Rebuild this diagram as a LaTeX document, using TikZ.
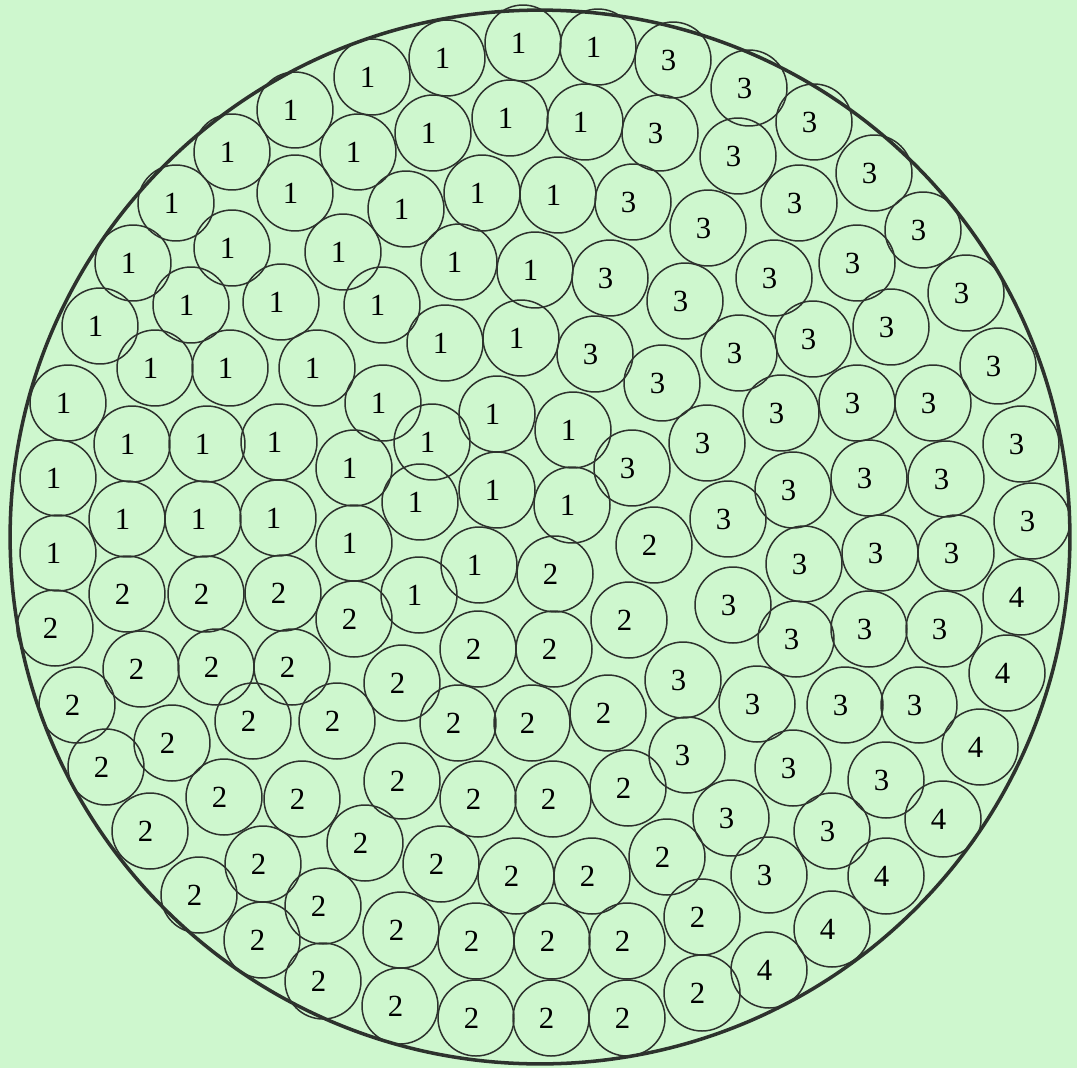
\documentclass[tikz,border=0pt]{standalone}
\usepackage{fontspec}
\setmainfont{Liberation Serif}
\usepackage{tikz}
\usepackage{xcolor}
\definecolor{bggreen}{RGB}{206,247,206}
\definecolor{linegray}{RGB}{45,50,45}

\begin{document}
\begin{tikzpicture}[
  x=0.02cm, y=-0.02cm,
  strand/.style={draw=linegray, circle, minimum size=1.52cm, inner sep=0pt, line width=0.85pt,
    label={[font=\fontsize{17.5}{17.5}\selectfont, xshift=-0.09cm, inner sep=0pt]center:#1}},
  sheath/.style={draw=linegray, line width=2pt}
]
\fill[bggreen] (0,0) rectangle (1077,1068);
\useasboundingbox (0,0) rectangle (1077,1068);
\draw[sheath] (540,537) ellipse [x radius=10.6cm, y radius=10.54cm];

% group 1
\foreach \px/\py [count=\i] in {367/77, 442/58, 518/43, 593/47, 290/110, 428/133, 505/118, 580/122,
  227/152, 353/152, 171/203, 290/193, 401/209, 477/193, 553/195,
  128/263, 227/248, 338/252, 454/262, 530/270, 95/326, 186/305, 276/302, 377/305, 440/343, 516/338,
  150/368, 225/368, 312/368, 63/403, 378/403, 492/414, 568/430,
  127/444, 202/444, 274/442, 427/442, 53/478, 349/468, 492/490, 415/502, 567/505,
  122/519, 198/519, 273/518, 53/553, 349/543, 474/565, 414/595}
  \node[strand=1] (a\i) at ({\px+5},\py) {};

% group 2
\foreach \px/\py [count=\i] in {649/545, 550/574, 122/594, 201/594, 278/593, 50/628, 349/619, 624/620,
  473/649, 549/649, 136/669, 211/667, 287/667, 397/683, 72/705, 248/721, 332/721, 453/723, 527/723, 603/713,
  167/743, 101/767, 397/781, 473/799, 548/799, 623/788, 219/797, 297/799, 145/831, 360/843,
  258/864, 436/864, 511/876, 587/876, 662/857, 194/895, 318/906, 697/917, 257/940, 396/930,
  471/941, 547/941, 622/941, 318/981, 697/993, 395/1006, 471/1018, 546/1018, 622/1018}
  \node[strand=2] (b\i) at ({\px+5},\py) {};

% group 3
\foreach \px/\py [count=\i] in {668/60, 744/88, 655/133, 809/122, 733/156, 869/173, 628/202, 794/203,
  703/228, 918/230, 605/278, 769/278, 852/263, 961/293, 680/301, 590/354, 734/353, 808/339, 886/327,
  993/366, 657/383, 776/413, 852/403, 928/403, 702/443, 1016/444, 627/468, 788/490, 864/478, 941/479,
  723/519, 1027/521, 799/564, 875/553, 951/553, 728/605, 791/639, 864/629, 939/629, 678/680,
  752/704, 840/705, 914/705, 682/755, 788/768, 881/780, 726/818, 827/831, 764/875}
  \node[strand=3] (c\i) at ({\px+5},\py) {};

% group 4
\foreach \px/\py [count=\i] in {1016/597, 1002/673, 975/747, 938/819, 881/876, 827/929, 764/970}
  \node[strand=4] (d\i) at ({\px+5},\py) {};
\end{tikzpicture}
\end{document}
